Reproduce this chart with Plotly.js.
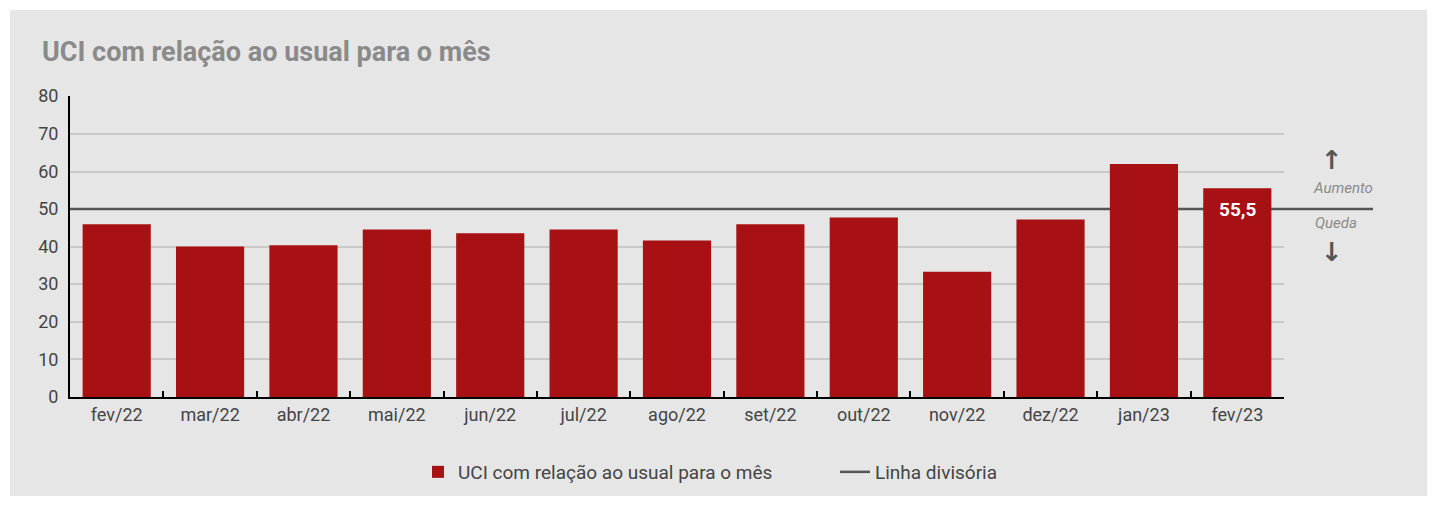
<!DOCTYPE html>
<html>
<head>
<meta charset="utf-8">
<script src="https://cdn.plot.ly/plotly-3.0.1.min.js"></script>
<style>
html,body{margin:0;padding:0;background:#ffffff;}
#wrap{position:absolute;left:10px;top:10px;width:1417px;height:486px;background:#e6e6e6;}
#chart{width:1417px;height:486px;}
</style>
</head>
<body>
<div id="wrap"><div id="chart"></div></div>
<script>
const categories = ["fev/22","mar/22","abr/22","mai/22","jun/22","jul/22","ago/22","set/22","out/22","nov/22","dez/22","jan/23","fev/23"];
const uciValues = [45.9, 40.0, 40.3, 44.5, 43.5, 44.5, 41.6, 45.9, 47.7, 33.3, 47.2, 61.9, 55.5];
const dividerValue = 50;
const seriesName = "UCI com relação ao usual para o mês";
const dividerName = "Linha divisória";
const titleText = "UCI com relação ao usual para o mês";
const labelIndex = 12;
const yTicks = [0,10,20,30,40,50,60,70,80];
const gridTicks = [10,20,30,40,60,70,80];
const yRange = [0, 80];
const gridRange = [0, 80.2];

const baseFont = "Roboto, 'Noto Sans', sans-serif";

const bar = {
  type: "bar",
  x: categories,
  y: uciValues,
  name: seriesName,
  marker: {color: "#a81113"},
  hoverinfo: "x+y",
  showlegend: true,
  legendwidth: 372
};

// empty helper trace so the grid-only overlay axis is drawn
const gridHelper = {
  type: "scatter",
  mode: "lines",
  x: [categories[0]],
  y: [null],
  yaxis: "y2",
  showlegend: false,
  hoverinfo: "skip"
};

const layout = {
  width: 1417,
  height: 486,
  paper_bgcolor: "#e6e6e6",
  plot_bgcolor: "rgba(0,0,0,0)",
  separators: ", ",
  margin: {l: 60, r: 143, t: 86, b: 99},
  bargap: 0.27,
  font: {family: baseFont, color: "#444444", size: 17},
  title: {
    text: titleText,
    x: 32/1417, xref: "container", xanchor: "left",
    y: 1 - 42/486, yref: "container", yanchor: "middle",
    font: {family: baseFont, size: 27, color: "#8a8a8a", weight: "bold"}
  },
  xaxis: {
    type: "category",
    categoryorder: "array",
    categoryarray: categories,
    range: [-0.5, categories.length - 0.5],
    automargin: false,
    showline: true, linecolor: "#000000", linewidth: 2,
    ticks: "inside", tickson: "boundaries", ticklen: 6, tickwidth: 2, tickcolor: "#000000",
    showgrid: false,
    tickfont: {size: 18, color: "#444444"},
    fixedrange: true
  },
  yaxis: {
    automargin: false,
    range: yRange,
    tickvals: yTicks,
    showline: true, linecolor: "#000000", linewidth: 2,
    showgrid: false,
    zeroline: false,
    ticks: "",
    ticklabelstandoff: 6,
    tickfont: {size: 18, color: "#444444"},
    fixedrange: true
  },
  yaxis2: {
    overlaying: "y",
    side: "left",
    automargin: false,
    range: gridRange,
    tickvals: gridTicks,
    showticklabels: false,
    showline: false,
    showgrid: true, gridcolor: "#c9c9c9", gridwidth: 1.5,
    zeroline: false,
    ticks: "",
    fixedrange: true
  },
  shapes: [{
    type: "line",
    xref: "paper", yref: "y",
    x0: 0, x1: (1373-70)/1214,
    y0: dividerValue, y1: dividerValue,
    line: {color: "#555555", width: 2.5},
    layer: "below",
    showlegend: true,
    name: dividerName
  }],
  legend: {
    orientation: "h",
    xref: "container", yref: "container",
    x: 0.5 - 8/1417, xanchor: "center",
    y: 1 - (472-10)/486, yanchor: "middle",
    font: {size: 19, color: "#444444"},
    bgcolor: "rgba(0,0,0,0)"
  },
  annotations: [
    {
      x: categories[labelIndex], y: uciValues[labelIndex], xref: "x", yref: "y",
      text: "<b>" + uciValues[labelIndex].toFixed(1).replace(".", ",") + "</b>",
      showarrow: false, yanchor: "middle", yshift: -21,
      font: {size: 19, color: "#ffffff", family: baseFont}
    },
    {
      x: (1332-70)/1214, y: (397-160)/301, xref: "paper", yref: "paper",
      text: "<b>↑</b>", showarrow: false, xanchor: "center", yanchor: "middle",
      font: {size: 26, color: "#555555", family: "'DejaVu Sans', sans-serif"}
    },
    {
      x: (1343-70)/1214, y: (397-188)/301, xref: "paper", yref: "paper",
      text: "<i>Aumento</i>", showarrow: false, xanchor: "center", yanchor: "middle",
      font: {size: 15, color: "#8a8a8a", family: baseFont}
    },
    {
      x: (1336-70)/1214, y: (397-223)/301, xref: "paper", yref: "paper",
      text: "<i>Queda</i>", showarrow: false, xanchor: "center", yanchor: "middle",
      font: {size: 15, color: "#8a8a8a", family: baseFont}
    },
    {
      x: (1332-70)/1214, y: (397-252)/301, xref: "paper", yref: "paper",
      text: "<b>↓</b>", showarrow: false, xanchor: "center", yanchor: "middle",
      font: {size: 26, color: "#555555", family: "'DejaVu Sans', sans-serif"}
    }
  ]
};

Plotly.newPlot("chart", [bar, gridHelper], layout, {displayModeBar: false});
</script>
</body>
</html>
